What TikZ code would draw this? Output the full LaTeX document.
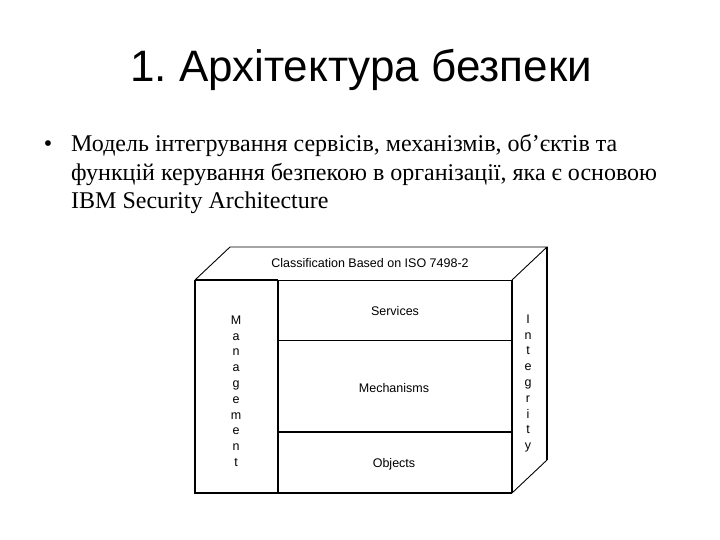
\documentclass[tikz,border=0pt]{standalone}
\usepackage{fontspec}
\setmainfont{Liberation Serif}
\newfontfamily\arialf{Liberation Sans}
\begin{document}
\begin{tikzpicture}[x=1pt,y=-1pt,
  thickline/.style={line width=1.6pt,black},
  thinline/.style={line width=0.9pt,black},
  bodyline/.style={font=\fontsize{24}{28}\selectfont, inner sep=0pt, anchor=base west},
  lbl/.style={font=\arialf\fontsize{12.5}{14}\selectfont, inner sep=0pt},
  vlbl/.style={font=\arialf\fontsize{12.5}{15.8}\selectfont, inner sep=0pt, align=center}
]
\useasboundingbox (0,0) rectangle (720,540);
% title
\node[font=\arialf\fontsize{44}{50}\selectfont, inner sep=0pt, anchor=base] (title) at (361,82) {\frenchspacing 1. Архітектура безпеки};
% bullet text
\node[font=\fontsize{24}{26}\selectfont, inner sep=0pt] (bullet) at (48,146) {•};
\node[bodyline] (l1) at (71,152) {Модель інтегрування сервісів, механізмів, об’єктів та};
\node[bodyline] (l2) at (71,180.5) {функцій керування безпекою в організації, яка є основою};
\node[bodyline] (l3) at (71,209) {IBM Security Architecture};
% box coordinates
\coordinate (fl) at (195,280);
\coordinate (fr) at (512,280);
\coordinate (bl) at (195,493);
\coordinate (br) at (512,493);
\coordinate (tbl) at (230,247);
\coordinate (tbr) at (547,247);
\coordinate (bbr) at (547,460);
\coordinate (mr) at (278,280);
\coordinate (mrb) at (278,493);
% top face
\draw[thinline] (fl) -- (tbl) -- (tbr) -- (fr);
% right face
\draw[thinline] (bbr) -- (br);
\draw[line width=1.8pt] (tbr) -- (bbr);
% front
\draw[thinline] (fl) -- (fr);
\draw[thickline] (fr) -- (br);
\draw[thickline] (fl) -- (bl) -- (br);
\draw[thickline] (mr) -- (mrb);
\draw[thickline] (fl) -- (mr);
\draw[thinline] (278,340) -- (512,340);
\draw[line width=1.3pt] (278,432) -- (512,432);
% labels
\node[lbl] (cls) at (370,263) {Classification Based on ISO 7498-2};
\node[lbl] (svc) at (395,311) {Services};
\node[lbl] (mech) at (394,388) {Mechanisms};
\node[lbl] (obj) at (394,464) {Objects};
\node[vlbl, anchor=north] (mgmt) at (236,315.5) {M\\a\\n\\a\\g\\e\\m\\e\\n\\t};
\node[vlbl, anchor=north] (integ) at (528,314.5) {I\\n\\t\\e\\g\\r\\i\\t\\y};
\end{tikzpicture}
\end{document}
